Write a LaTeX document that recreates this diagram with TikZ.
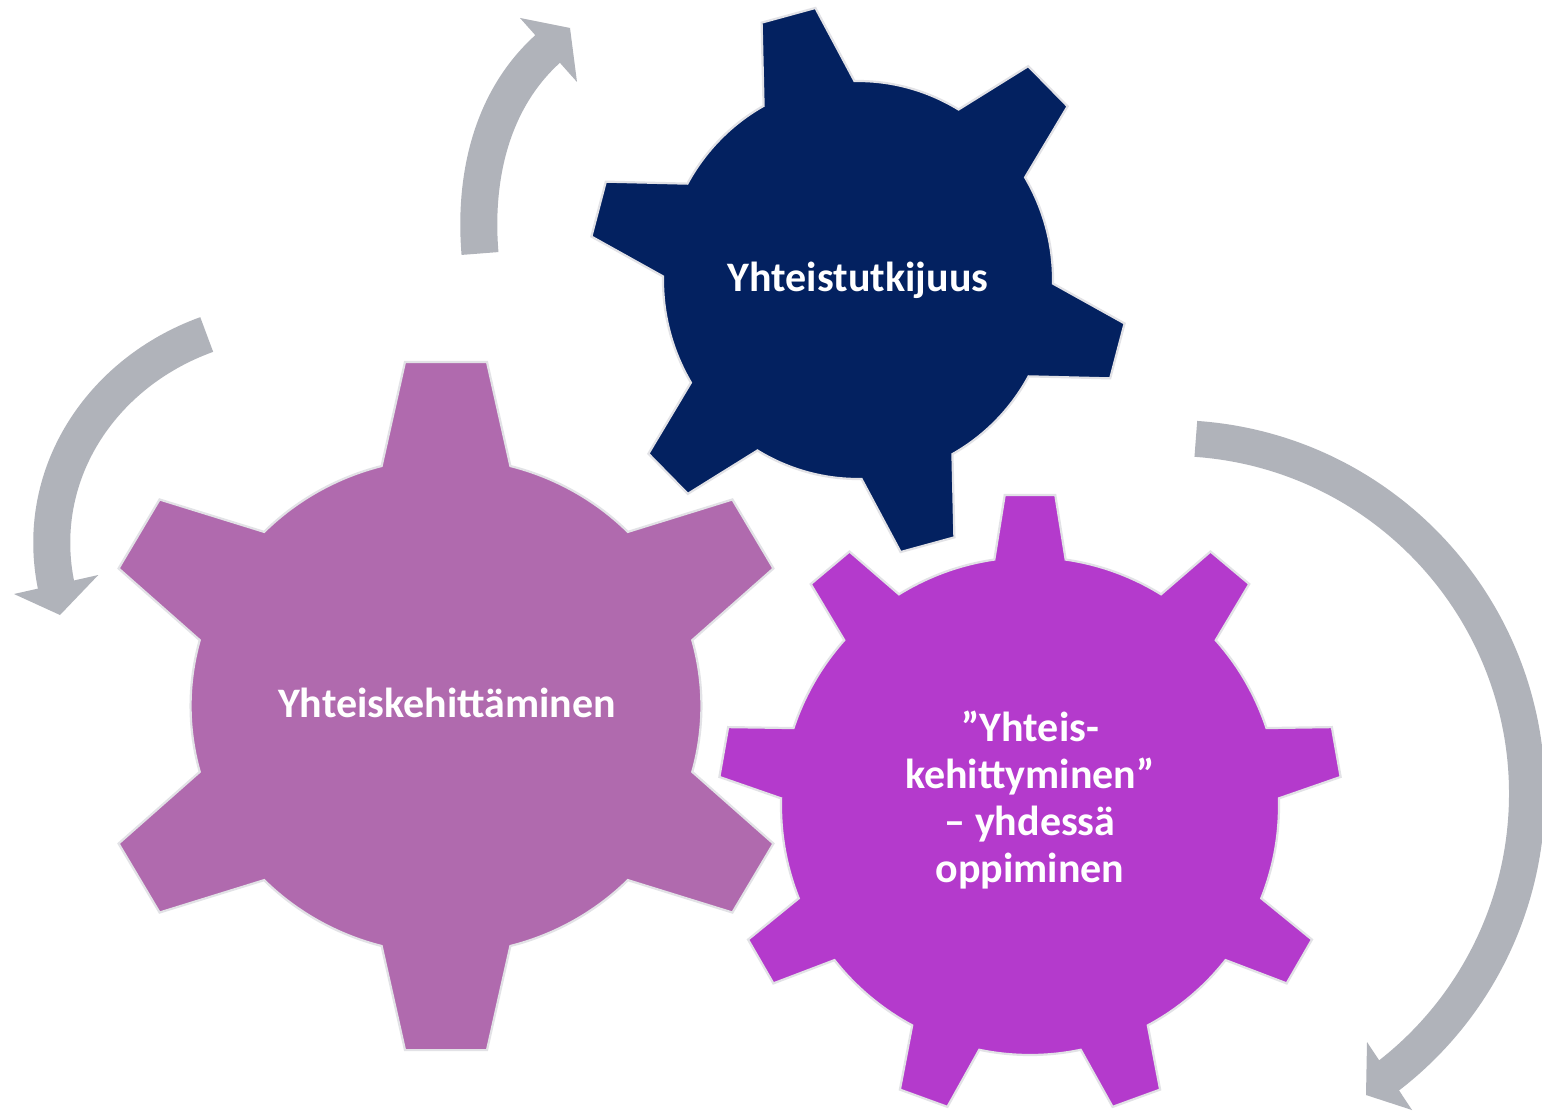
\documentclass[tikz,border=0pt]{standalone}
\usepackage{fontspec}
\setmainfont{Carlito}
\definecolor{gearNavy}{RGB}{3,33,96}
\definecolor{gearMauve}{RGB}{176,106,174}
\definecolor{gearPurple}{RGB}{180,58,204}
\definecolor{arrowGray}{RGB}{176,179,186}
\definecolor{rimGray}{RGB}{226,226,230}
\tikzset{
  gearbody/.style={draw=rimGray, line width=1.1pt, line join=miter},
  band/.style={draw=arrowGray, line width=18.5pt, line cap=butt},
  arrowtip/.style={fill=arrowGray},
  lbl/.style={text=white, font=\bfseries\fontsize{21}{23.5}\selectfont, inner sep=0pt},
}
\begin{document}
\begin{tikzpicture}[x=0.5pt,y=-0.5pt]
\useasboundingbox (0,0) rectangle (1542,1113);
\fill[white] (0,0) rectangle (1542,1113);
\clip (0,0) rectangle (1542,1113);

% gear 2 (mauve, 6 teeth)
\path[gearbody, fill=gearMauve, shift={(446,706)}, xscale=1.03]
  (-90-14.6:248)
  \foreach \t in {-90,-30,30,90,150,210} {
    -- (\t-6.6:346.4) -- (\t+6.6:346.4) -- (\t+14.6:248)
    arc[start angle=\t+14.6, end angle=\t+60-14.6, radius=248]
  } -- cycle;

% gear 1 (navy, 6 teeth)
\path[gearbody, fill=gearNavy, shift={(858,280)}, xscale=0.98]
  (-105-13.96:199)
  \foreach \t in {-105,-45,15,75,135,195} {
    -- (\t-5.92:275.5) -- (\t+5.92:275.5) -- (\t+13.96:199)
    arc[start angle=\t+13.96, end angle=\t+60-13.96, radius=199]
  } -- cycle;

% gear 3 (purple, 9 teeth)
\path[gearbody, fill=gearPurple, shift={(1030,806)}]
  (-90-8.24:249)
  \foreach \t in {-90,-50,-10,30,70,110,150,190,230} {
    -- (\t-4.65:312) -- (\t+4.65:312) -- (\t+8.24:249)
    arc[start angle=\t+8.24, end angle=\t+40-8.24, radius=249]
  } -- cycle;

% labels
\node[lbl, anchor=base] (t1) at (858,291) {Yhteistutkijuus};
\node[lbl, anchor=base] (t2) at (447,717) {Yhteiskehittäminen};
\node[lbl, align=center] (t3) at (1030,800) {”Yhteis-\\kehittyminen”\\– yhdessä\\oppiminen};

% arrow A (top, small)
\coordinate (aS) at (480,253.5);
\coordinate (aE) at (548.7,48);
\draw[band] (aS) .. controls (473.8,178.7) and (490.5,99.9) .. (aE);
\coordinate (aB1) at (520,18);
\coordinate (aT) at (570,28);
\coordinate (aB2) at (577,82);
\fill[arrowtip] (aB1) -- (aT) -- (aB2) -- cycle;

% arrow B (left)
\coordinate (bS) at (206.7,334.5);
\coordinate (bE) at (56.4,586.8);
\draw[band] (bS) .. controls (100,373) and (33,476) .. (bE);
\coordinate (bB1) at (98.3,575);
\coordinate (bT) at (60,615);
\coordinate (bB2) at (14,594);
\fill[arrowtip] (bB1) -- (bT) -- (bB2) -- cycle;

% arrow C (right, large)
\coordinate (cC) at (1171,794);
\draw[band, line width=18pt] (cC) ++(-86:356) arc[start angle=-86, end angle=53, radius=356];
\coordinate (cB1) at (1367,1042);
\coordinate (cT) at (1366,1095);
\coordinate (cB2) at (1412,1110);
\fill[arrowtip] (cB1) -- (cT) -- (cB2) -- cycle;
\end{tikzpicture}
\end{document}
